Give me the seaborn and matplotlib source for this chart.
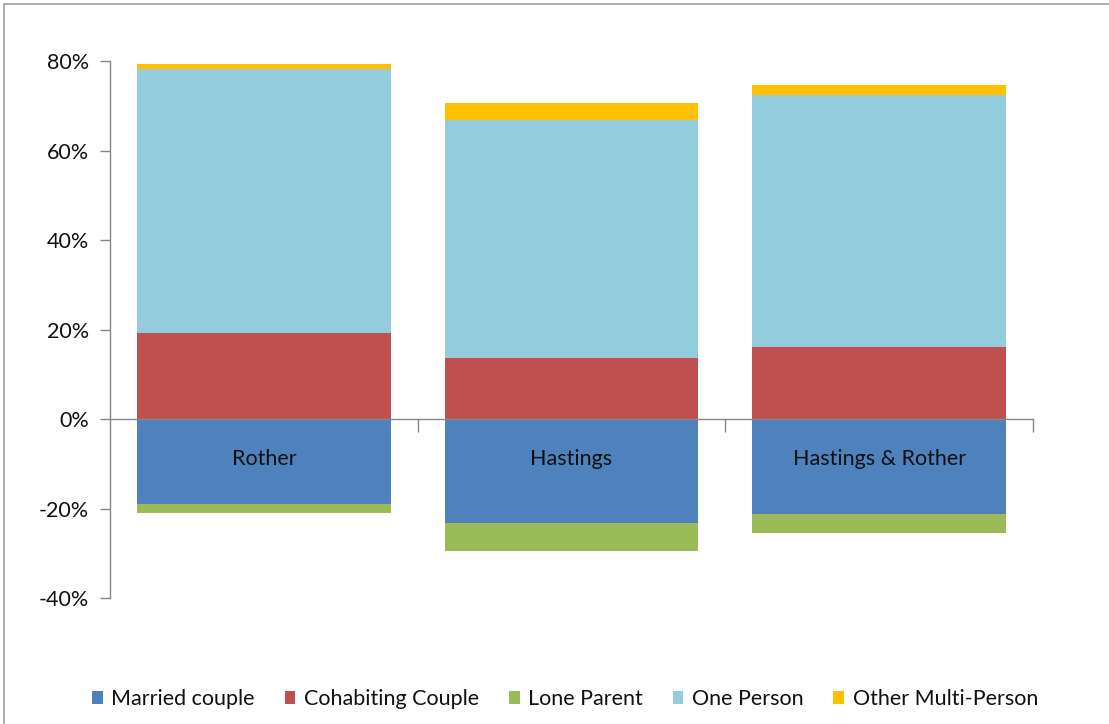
import matplotlib
matplotlib.use("Agg")
import matplotlib.pyplot as plt
from matplotlib.patches import Patch, Rectangle
import seaborn as sns
import pandas as pd
import numpy as np

# Household composition by area (% of households)
areas = ["Rother", "Hastings", "Hastings & Rother"]
married_couple = [19.0, 23.3, 21.2]
cohabiting_couple = [19.2, 13.6, 16.1]
lone_parent = [2.0, 6.3, 4.3]
one_person = [59.0, 53.3, 56.3]
other_multi_person = [1.1, 3.7, 2.3]

series_names = ["Married couple", "Cohabiting Couple", "Lone Parent",
                "One Person", "Other Multi-Person"]
colors = {
    "Married couple": "#4F81BD",
    "Cohabiting Couple": "#C0504D",
    "Lone Parent": "#9BBB59",
    "One Person": "#93CDDD",
    "Other Multi-Person": "#FFC000",
}
y_ticks = [-40, -20, 0, 20, 40, 60, 80]

sns.set_style("white")
plt.rcParams["font.family"] = ["Lato", "DejaVu Sans"]

fig = plt.figure(figsize=(11.09, 7.24), dpi=100)
ax = fig.add_axes([0.0992, 0.174, 0.8323, 0.7417])

df = pd.DataFrame({
    "area": areas,
    "married": married_couple,
    "cohab": cohabiting_couple,
    "lone": lone_parent,
    "one": one_person,
    "other": other_multi_person,
})

# Stacked segments drawn as overlapping cumulative bars (largest first)
df["pos_top"] = df["cohab"] + df["one"] + df["other"]
df["pos_mid"] = df["cohab"] + df["one"]
df["pos_low"] = df["cohab"]
df["neg_low"] = -(df["married"] + df["lone"])
df["neg_high"] = -df["married"]

layers = [
    ("pos_top", colors["Other Multi-Person"]),
    ("pos_mid", colors["One Person"]),
    ("pos_low", colors["Cohabiting Couple"]),
    ("neg_low", colors["Lone Parent"]),
    ("neg_high", colors["Married couple"]),
]
for col, c in layers:
    sns.barplot(data=df, x="area", y=col, order=areas, color=c,
                width=0.825, linewidth=0, saturation=1, ax=ax)

ax.set_xlim(-0.5, 2.5)
ax.set_ylim(-40, 80)
ax.set_xlabel("")
ax.set_ylabel("")

# Y axis
ax.set_yticks(y_ticks)
ax.set_yticklabels([f"{t}%" for t in y_ticks], fontsize=15.5, color="#111111")
ax.tick_params(axis="y", direction="out", length=7, width=1,
               color="#868686", pad=8, left=True)

# X axis sits on the zero line, ticks at category boundaries
ax.spines["bottom"].set_position(("data", 0))
ax.set_xticks([0.5, 1.5, 2.5])
ax.set_xticklabels([])
ax.tick_params(axis="x", direction="out", length=9, width=1,
               color="#868686", bottom=True)
for side in ["top", "right"]:
    ax.spines[side].set_visible(False)
for side in ["left", "bottom"]:
    ax.spines[side].set_color("#868686")
    ax.spines[side].set_linewidth(1)

# Category names inside the negative bars
for i, a in enumerate(areas):
    ax.text(i, -9.0, a, ha="center", va="center", fontsize=15.5,
            color="#111111")

# Legend along the bottom
handles = [Patch(facecolor=colors[n], edgecolor="none") for n in series_names]
fig.legend(handles, series_names, loc="center", bbox_to_anchor=(0.5095, 0.0345),
           ncol=5, frameon=False, fontsize=15.5, handlelength=0.5,
           handleheight=0.5, handletextpad=0.4, columnspacing=1.38,
           labelcolor="#111111")

# Chart frame
fig.patches.append(Rectangle((4 / 1109, -0.1), 1.2, 1 - 4 / 724 + 0.1,
                             transform=fig.transFigure, fill=False,
                             edgecolor="#a0a0a0", linewidth=1.2))

fig.savefig("out.png", dpi=100)
